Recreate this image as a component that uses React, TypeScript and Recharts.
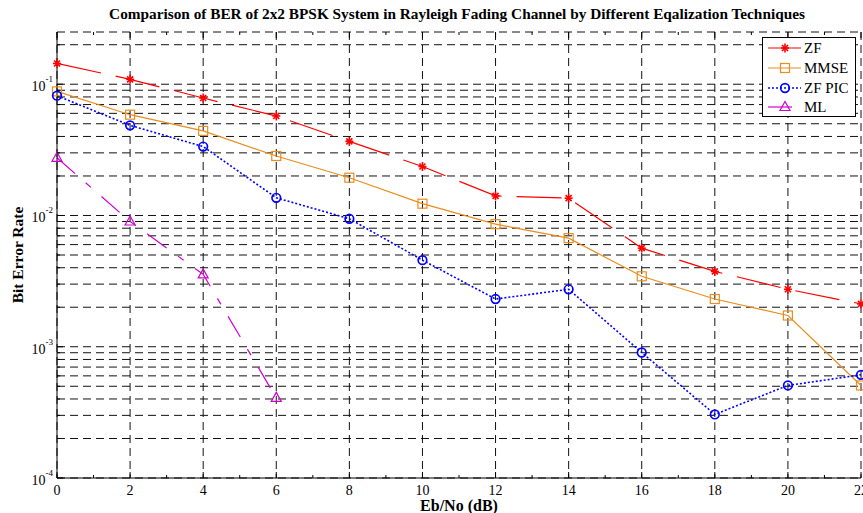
import { CartesianGrid, Legend, Line, LineChart, XAxis, YAxis } from "recharts";

const FONT = '"Liberation Serif", "Times New Roman", serif';

const EBNO = [0, 2, 4, 6, 8, 10, 12, 14, 16, 18, 20, 22];
const BER_ZF = [0.144, 0.109, 0.0785, 0.0573, 0.0367, 0.0236, 0.0141, 0.01355, 0.00564, 0.00375, 0.00274, 0.00212];
const BER_MMSE = [0.0882, 0.0586, 0.0441, 0.0284, 0.0194, 0.0123, 0.00859, 0.00672, 0.00344, 0.00231, 0.00173, 0.000507];
const BER_ZF_PIC = [0.0818, 0.0486, 0.0335, 0.01364, 0.00944, 0.00457, 0.00231, 0.00274, 0.000904, 0.000305, 0.000507, 0.000611];
// ML was only simulated up to 6 dB
const BER_ML = [0.0275, 0.009, 0.00356, 0.000408];

const X_TICKS = [0, 1, 2, 3, 4, 5, 6, 7, 8, 9, 10, 11, 12, 13, 14, 15, 16, 17, 18, 19, 20, 21, 22];
const X_GRID = [0, 2, 4, 6, 8, 10, 12, 14, 16, 18, 20, 22];
const Y_TICKS = [
  0.0001, 0.0002, 0.0003, 0.0004, 0.0005, 0.0006, 0.0007, 0.0008, 0.0009,
  0.001, 0.002, 0.003, 0.004, 0.005, 0.006, 0.007, 0.008, 0.009,
  0.01, 0.02, 0.03, 0.04, 0.05, 0.06, 0.07, 0.08, 0.09,
  0.1, 0.2,
];

const TITLE = "Comparison of BER of 2x2 BPSK System in Rayleigh Fading Channel by Different Eqalization Techniques";

type MarkerKind = "star" | "square" | "circle" | "triangle";

const SERIES: { key: string; name: string; color: string; dash?: string; width: number; marker: MarkerKind }[] = [
  { key: "zf", name: "ZF", color: "#ff0000", dash: "45 15", width: 1.2, marker: "star" },
  { key: "mmse", name: "MMSE", color: "#eb8c1e", width: 1.2, marker: "square" },
  { key: "zfpic", name: "ZF PIC", color: "#0000ff", dash: "2 2", width: 1.6, marker: "circle" },
  { key: "ml", name: "ML", color: "#d000d0", dash: "24 14 7 14", width: 1.2, marker: "triangle" },
];

const data = EBNO.map((x, i) => ({
  x,
  zf: BER_ZF[i],
  mmse: BER_MMSE[i],
  zfpic: BER_ZF_PIC[i],
  ml: i < BER_ML.length ? BER_ML[i] : null,
}));

function Marker({ kind, color, cx, cy }: { kind: MarkerKind; color: string; cx: number; cy: number }) {
  if (cx == null || cy == null || Number.isNaN(cy)) return <g />;
  switch (kind) {
    case "star":
      return (
        <g stroke={color} strokeWidth={1.6}>
          <line x1={cx - 4} x2={cx + 4} y1={cy} y2={cy} />
          <line x1={cx} x2={cx} y1={cy - 4.5} y2={cy + 4.5} />
          <line x1={cx - 3} x2={cx + 3} y1={cy - 3} y2={cy + 3} />
          <line x1={cx - 3} x2={cx + 3} y1={cy + 3} y2={cy - 3} />
        </g>
      );
    case "square":
      return <rect x={cx - 4.5} y={cy - 4.5} width={9} height={9} fill="none" stroke={color} strokeWidth={1.2} />;
    case "circle":
      return <circle cx={cx} cy={cy} r={4.3} fill="none" stroke={color} strokeWidth={1.7} />;
    default:
      return (
        <polygon
          points={`${cx},${cy - 5.5} ${cx - 5},${cy + 3.5} ${cx + 5},${cy + 3.5}`}
          fill="none"
          stroke={color}
          strokeWidth={1.2}
        />
      );
  }
}

function YTick(props: any) {
  const { x, y, payload } = props;
  const lg = Math.log10(payload.value);
  const exp = Math.round(lg);
  const major = Math.abs(lg - exp) < 1e-6;
  return (
    <g>
      <line x1={x} x2={x + (major ? 6 : 3)} y1={y} y2={y} stroke="#000" />
      {major && (
        <text x={x - 4} y={y + 7} textAnchor="end" fontFamily={FONT} fontSize={14} fill="#000">
          10
          <tspan dy={-9} fontSize={9}>
            {exp}
          </tspan>
        </text>
      )}
    </g>
  );
}

function XTick(props: any) {
  const { x, y, payload } = props;
  const major = payload.value % 2 === 0;
  return (
    <g>
      <line x1={x} x2={x} y1={y} y2={y - (major ? 6 : 3)} stroke="#000" />
      {major && (
        <text x={x} y={y + 17} textAnchor="middle" fontFamily={FONT} fontSize={14} fill="#000">
          {payload.value}
        </text>
      )}
    </g>
  );
}

function TopTick(props: any) {
  const { x, y, payload } = props;
  const major = payload.value % 2 === 0;
  return <line x1={x} x2={x} y1={y} y2={y + (major ? 6 : 3)} stroke="#000" />;
}

function FixedText({ tx, ty, text, size, rotate }: { tx: number; ty: number; text: string; size: number; rotate?: boolean }) {
  return (
    <text
      x={tx}
      y={ty}
      textAnchor="middle"
      dominantBaseline="central"
      fontFamily={FONT}
      fontWeight="bold"
      fontSize={size}
      fill="#000"
      transform={rotate ? `rotate(-90 ${tx} ${ty})` : undefined}
    >
      {text}
    </text>
  );
}

function LegendBox() {
  return (
    <div
      style={{
        width: 94,
        height: 80,
        boxSizing: "border-box",
        border: "1.3px solid #000",
        background: "#fff",
        paddingTop: 0.5,
        fontFamily: FONT,
        fontSize: 15,
        color: "#000",
      }}
    >
      {SERIES.map((s) => (
        <div key={s.key} style={{ display: "flex", alignItems: "center", height: 19.7 }}>
          <svg width={41} height={18} style={{ display: "block" }}>
            <line x1={5} x2={38} y1={9} y2={9} stroke={s.color} strokeWidth={s.width} strokeDasharray={s.dash} />
            <Marker kind={s.marker} color={s.color} cx={22} cy={9} />
          </svg>
          <span style={{ lineHeight: "18px" }}>{s.name}</span>
        </div>
      ))}
    </div>
  );
}

export default function App() {
  return (
    <div style={{ position: "absolute", left: 0, top: 0, background: "#fff" }}>
      <LineChart width={863} height={513} data={data} margin={{ top: 0, right: 2, bottom: 0, left: 0 }}>
        <CartesianGrid stroke="#111" strokeDasharray="8 5" verticalValues={X_GRID} />
        <XAxis
          dataKey="x"
          type="number"
          domain={[0, 22]}
          ticks={X_TICKS}
          interval={0}
          height={35}
          tickSize={0}
          tickMargin={0}
          tickLine={false}
          axisLine={{ stroke: "#000" }}
          tick={<XTick />}
          label={<FixedText tx={459} ty={505} text="Eb/No (dB)" size={16} />}
        />
        <XAxis
          xAxisId="top"
          orientation="top"
          dataKey="x"
          type="number"
          domain={[0, 22]}
          ticks={X_TICKS}
          interval={0}
          height={32}
          tickSize={0}
          tickMargin={0}
          tickLine={false}
          axisLine={false}
          tick={<TopTick />}
          label={<FixedText tx={457} ty={13} text={TITLE} size={15.3} />}
        />
        <YAxis
          type="number"
          scale="log"
          domain={[0.0001, 0.25]}
          allowDataOverflow
          ticks={Y_TICKS}
          interval={0}
          width={57}
          tickSize={0}
          tickMargin={0}
          tickLine={false}
          axisLine={{ stroke: "#000" }}
          tick={<YTick />}
          label={<FixedText tx={17} ty={255} text="Bit Error Rate" size={15.5} rotate />}
        />
        {SERIES.map((s) => (
          <Line
            key={s.key}
            dataKey={s.key}
            name={s.name}
            stroke={s.color}
            strokeWidth={s.width}
            strokeDasharray={s.dash}
            connectNulls={false}
            activeDot={false}
            isAnimationActive={false}
            dot={(p: any) => (
              <Marker key={`${s.key}-${p.index}`} kind={s.marker} color={s.color} cx={p.cx} cy={p.cy} />
            )}
          />
        ))}
        <Legend
          layout="vertical"
          align="center"
          verticalAlign="middle"
          content={<LegendBox />}
          wrapperStyle={{ left: 762, top: 37, width: 94, height: 80 }}
        />
      </LineChart>
    </div>
  );
}
